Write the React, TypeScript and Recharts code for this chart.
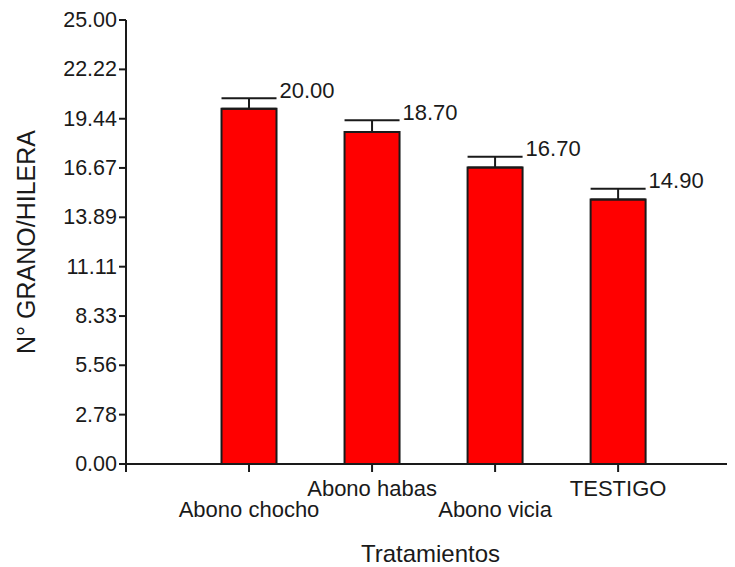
import React from "react";
import {
  BarChart,
  Bar,
  XAxis,
  YAxis,
  ErrorBar,
  LabelList,
  Label,
} from "recharts";

const treatments = ["Abono chocho", "Abono habas", "Abono vicia", "TESTIGO"];
const grainsPerRow = [20.0, 18.7, 16.7, 14.9];
const errors = [0.6, 0.65, 0.6, 0.6];
const yTicks = [0, 2.78, 5.56, 8.33, 11.11, 13.89, 16.67, 19.44, 22.22, 25.0];

const data = treatments.map((name, i) => ({
  pos: i + 1,
  name,
  mean: grainsPerRow[i],
  err: [0, errors[i]],
}));

const FONT = "'Liberation Sans', Arial, sans-serif";
const INK = "#1a1a1a";

const XTick = (props: any) => {
  const { x, y, payload } = props;
  const idx = payload.value - 1;
  if (idx < 0 || idx >= treatments.length) return null;
  const low = idx % 2 === 0;
  return (
    <text
      x={x}
      y={y + (low ? 35 : 14)}
      textAnchor="middle"
      dominantBaseline="central"
      fontSize={22}
      fontFamily={FONT}
      fill={INK}
    >
      {treatments[idx]}
    </text>
  );
};

const YTick = (props: any) => {
  const { x, y, payload } = props;
  return (
    <text
      x={x}
      y={y}
      textAnchor="end"
      dominantBaseline="central"
      fontSize={21.5}
      fontFamily={FONT}
      fill={INK}
    >
      {Number(payload.value).toFixed(2)}
    </text>
  );
};

const ValueLabel = (props: any) => {
  const { x, y, width, height, value, index } = props;
  const capY = y - (errors[index] * height) / value;
  return (
    <text
      x={x + width + 3}
      y={capY - 8}
      dominantBaseline="central"
      fontSize={22}
      fontFamily={FONT}
      fill={INK}
    >
      {Number(value).toFixed(2)}
    </text>
  );
};

const YTitle = (props: any) => {
  const { viewBox } = props;
  const cy = viewBox.y + viewBox.height / 2;
  return (
    <text
      x={18}
      y={cy}
      transform={`rotate(-90 18 ${cy})`}
      textAnchor="middle"
      dominantBaseline="central"
      fontSize={25}
      fontFamily={FONT}
      fill={INK}
    >
      N° GRANO/HILERA
    </text>
  );
};

const XTitle = (props: any) => {
  const { viewBox } = props;
  const cx = viewBox.x + viewBox.width / 2;
  return (
    <text
      x={cx}
      y={viewBox.y + 89}
      textAnchor="middle"
      dominantBaseline="central"
      fontSize={24}
      fontFamily={FONT}
      fill={INK}
    >
      Tratamientos
    </text>
  );
};

export default function App() {
  return (
    <div style={{ width: 727, height: 559, background: "#fff" }}>
      <BarChart
        width={727}
        height={559}
        data={data}
        margin={{ top: 12, right: 0, bottom: 0, left: 0 }}
      >
        <XAxis
          type="number"
          dataKey="pos"
          domain={[0, 4.95]}
          ticks={[0, 1, 2, 3, 4]}
          tick={<XTick />}
          tickSize={8}
          height={103}
          allowDataOverflow
          axisLine={{ stroke: INK, strokeWidth: 2 }}
          tickLine={{ stroke: INK, strokeWidth: 2 }}
        >
          <Label content={<XTitle />} />
        </XAxis>
        <YAxis
          type="number"
          domain={[0, 25]}
          ticks={yTicks}
          width={118}
          tickSize={7}
          tickMargin={2}
          tick={<YTick />}
          axisLine={{ stroke: INK, strokeWidth: 2 }}
          tickLine={{ stroke: INK, strokeWidth: 2 }}
        >
          <Label content={<YTitle />} />
        </YAxis>
        <Bar
          dataKey="mean"
          fill="#ff0000"
          stroke={INK}
          strokeWidth={2}
          barSize={55}
          isAnimationActive={false}
        >
          <ErrorBar dataKey="err" width={27.5} stroke={INK} strokeWidth={2} />
          <LabelList dataKey="mean" content={<ValueLabel />} />
        </Bar>
      </BarChart>
    </div>
  );
}
